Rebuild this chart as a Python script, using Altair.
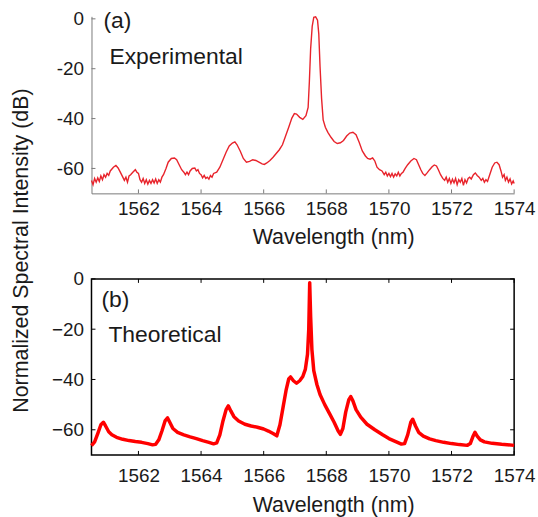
import altair as alt
import pandas as pd

# ---------------- data ----------------
exp_wl = [1560.50, 1560.55, 1560.60, 1560.65, 1560.70, 1560.75, 1560.80, 1560.85, 1560.90, 1560.95,
          1561.00, 1561.05, 1561.10, 1561.20, 1561.28, 1561.35, 1561.42, 1561.50, 1561.55, 1561.60,
          1561.65, 1561.70, 1561.75, 1561.82, 1561.90, 1561.95, 1562.00, 1562.05, 1562.10, 1562.15,
          1562.20, 1562.25, 1562.30, 1562.35, 1562.40, 1562.45, 1562.50, 1562.55, 1562.60, 1562.65,
          1562.70, 1562.75, 1562.80, 1562.88, 1562.95, 1563.05, 1563.15, 1563.22, 1563.30, 1563.38,
          1563.45, 1563.50, 1563.55, 1563.60, 1563.65, 1563.72, 1563.80, 1563.85, 1563.90, 1563.95,
          1564.00, 1564.05, 1564.10, 1564.15, 1564.20, 1564.25, 1564.30, 1564.35, 1564.40, 1564.50,
          1564.60, 1564.70, 1564.80, 1564.90, 1565.00, 1565.08, 1565.15, 1565.25, 1565.35, 1565.45,
          1565.55, 1565.65, 1565.75, 1565.85, 1565.95, 1566.02, 1566.10, 1566.20, 1566.30, 1566.40,
          1566.50, 1566.60, 1566.70, 1566.80, 1566.90, 1566.98, 1567.05, 1567.15, 1567.25, 1567.35,
          1567.42, 1567.46, 1567.50, 1567.55, 1567.60, 1567.66, 1567.72, 1567.76, 1567.80, 1567.85,
          1567.90, 1567.97, 1568.05, 1568.15, 1568.25, 1568.35, 1568.45, 1568.55, 1568.65, 1568.75,
          1568.85, 1568.95, 1569.05, 1569.15, 1569.25, 1569.32, 1569.40, 1569.48, 1569.55, 1569.62,
          1569.70, 1569.78, 1569.85, 1569.90, 1569.95, 1570.00, 1570.05, 1570.10, 1570.15, 1570.20,
          1570.25, 1570.30, 1570.35, 1570.40, 1570.45, 1570.52, 1570.60, 1570.70, 1570.80, 1570.88,
          1570.95, 1571.02, 1571.08, 1571.15, 1571.22, 1571.30, 1571.38, 1571.45, 1571.52, 1571.58,
          1571.65, 1571.72, 1571.78, 1571.83, 1571.88, 1571.93, 1571.98, 1572.03, 1572.08, 1572.13,
          1572.18, 1572.23, 1572.28, 1572.33, 1572.38, 1572.43, 1572.48, 1572.53, 1572.58, 1572.63,
          1572.70, 1572.76, 1572.82, 1572.88, 1572.95, 1573.00, 1573.05, 1573.10, 1573.15, 1573.22,
          1573.30, 1573.38, 1573.45, 1573.52, 1573.58, 1573.63, 1573.68, 1573.72, 1573.77, 1573.82,
          1573.87, 1573.92, 1573.97, 1574.00]
exp_db = [-64.8, -66.5, -64.0, -65.5, -63.8, -65.2, -63.0, -64.5, -62.5, -63.5,
          -62.0, -62.8, -61.0, -59.5, -58.8, -59.8, -61.5, -63.5, -64.8, -63.5,
          -65.5, -63.0, -62.5, -61.5, -60.5, -61.5, -62.0, -64.5, -65.5, -64.0,
          -66.0, -64.5, -66.3, -64.8, -66.0, -64.5, -65.8, -64.2, -66.0, -64.5,
          -65.5, -63.5, -62.5, -60.0, -57.5, -56.0, -55.8, -56.5, -58.5, -60.5,
          -61.5, -62.5, -61.5, -62.5, -61.0, -60.0, -59.8, -61.0, -60.5, -62.0,
          -62.5, -63.8, -62.8, -64.0, -63.5, -64.3, -62.8, -63.5, -62.0, -61.5,
          -59.5, -56.5, -53.5, -51.0, -49.8, -49.3, -50.5, -53.0, -56.0, -57.5,
          -57.2, -56.5, -56.8, -57.5, -58.2, -58.4, -57.8, -56.8, -55.5, -54.0,
          -52.5, -50.5, -47.0, -43.5, -39.8, -38.0, -38.2, -39.5, -40.3, -38.8,
          -35.5, -25.0, -12.0, -3.0, 0.6, 0.8, -0.5, -6.0, -19.0, -32.0,
          -40.5, -43.5, -45.5, -47.5, -49.2, -50.0, -49.7, -48.8, -47.0, -45.8,
          -45.5, -46.5, -49.5, -53.0, -55.0, -56.0, -56.3, -55.8, -57.0, -59.5,
          -60.5, -61.0, -62.5, -61.5, -63.0, -62.0, -63.3, -62.0, -63.5, -62.2,
          -63.0, -61.5, -63.0, -62.0, -61.5, -60.0, -58.5, -57.0, -56.0, -56.5,
          -58.5, -60.5, -62.0, -62.8, -61.8, -60.5, -59.3, -58.6, -59.0, -60.5,
          -62.5, -64.0, -64.8, -63.5, -65.5, -64.0, -66.0, -64.3, -65.8, -64.0,
          -66.5, -64.5, -65.5, -64.0, -66.8, -64.5, -65.8, -64.0, -63.5, -64.2,
          -62.5, -61.8, -62.8, -63.5, -64.8, -64.0, -65.5, -64.5, -65.2, -62.5,
          -59.5, -57.8, -57.5, -58.5, -61.0, -63.5, -62.5, -64.8, -63.5, -65.5,
          -64.2, -66.2, -65.0, -66.0]

th_wl = [1560.50, 1560.60, 1560.70, 1560.80, 1560.88, 1560.95, 1561.05, 1561.15, 1561.30, 1561.50,
         1561.70, 1561.90, 1562.10, 1562.30, 1562.45, 1562.55, 1562.65, 1562.75, 1562.85, 1562.93,
         1563.00, 1563.10, 1563.25, 1563.45, 1563.65, 1563.85, 1564.05, 1564.25, 1564.40, 1564.50,
         1564.60, 1564.70, 1564.80, 1564.87, 1564.95, 1565.05, 1565.20, 1565.40, 1565.60, 1565.80,
         1566.00, 1566.15, 1566.30, 1566.42, 1566.52, 1566.62, 1566.72, 1566.80, 1566.86, 1566.95,
         1567.05, 1567.15, 1567.25, 1567.33, 1567.40, 1567.44, 1567.47, 1567.50, 1567.54, 1567.60,
         1567.70, 1567.80, 1567.95, 1568.10, 1568.25, 1568.38, 1568.45, 1568.53, 1568.62, 1568.72,
         1568.78, 1568.85, 1568.95, 1569.10, 1569.30, 1569.55, 1569.80, 1570.00, 1570.20, 1570.40,
         1570.50, 1570.60, 1570.70, 1570.76, 1570.85, 1570.95, 1571.10, 1571.30, 1571.50, 1571.75,
         1572.00, 1572.25, 1572.50, 1572.60, 1572.68, 1572.75, 1572.82, 1572.92, 1573.05, 1573.30,
         1573.60, 1574.00]
th_db = [-66.3, -64.8, -61.5, -58.0, -57.0, -58.5, -60.8, -62.0, -63.0, -63.8,
         -64.3, -64.7, -65.0, -65.5, -66.0, -65.8, -64.0, -60.5, -56.5, -55.3,
         -57.0, -59.5, -61.0, -62.0, -62.8, -63.5, -64.3, -65.0, -65.6, -65.2,
         -62.0, -56.5, -52.0, -50.5, -52.5, -54.8, -56.5, -57.8, -58.5, -59.0,
         -59.7, -60.5, -61.5, -62.4, -58.0, -51.0, -44.0, -39.8, -39.0, -40.5,
         -41.5, -40.5, -38.8, -36.0, -30.0, -20.0, -1.5, -15.0, -28.0, -36.5,
         -42.0, -46.0, -50.0, -53.5, -57.0, -60.5, -61.8, -59.5, -53.0, -48.0,
         -46.8, -48.5, -52.0, -55.0, -57.8, -60.0, -62.0, -63.5, -64.6, -65.7,
         -65.5, -62.0, -57.0, -55.8, -58.5, -61.0, -62.5, -63.6, -64.3, -65.0,
         -65.5, -65.9, -66.2, -65.5, -62.8, -61.0, -62.5, -64.0, -64.8, -65.4,
         -65.8, -66.2]

x_ticks = [1562, 1564, 1566, 1568, 1570, 1572, 1574]
y_ticks = [0, -20, -40, -60]
panel_tags = ["(a)", "(b)"]
panel_names = ["Experimental", "Theoretical"]
x_title = "Wavelength (nm)"
y_title = "Normalized Spectral Intensity (dB)"

# ---------------- layout / style ----------------
FONT = "Liberation Sans"
W, H1, H2 = 425, 178, 177
TICK = 4
GRAY = "#7a7a7a"
TXT = "#1a1a1a"
LBL = 19
TTL = 21.5

exp_df = pd.DataFrame({"wl": exp_wl, "db": exp_db})
th_df = pd.DataFrame({"wl": th_wl, "db": th_db})
xt_df = pd.DataFrame({"wl": x_ticks})
yt_df = pd.DataFrame({"db": y_ticks})

xscale = alt.Scale(domain=[1560.5, 1574], nice=False, zero=False, padding=0)
y1scale = alt.Scale(domain=[-70, 1], nice=False, zero=False, padding=0)
y2scale = alt.Scale(domain=[-70, 0], nice=False, zero=False, padding=0)


def x_axis(label_pad, title_y, show_domain):
    return alt.Axis(values=x_ticks, format="d", ticks=False, grid=False,
                    labelOverlap=False, labelFlush=False,
                    domain=show_domain, domainColor=GRAY, domainWidth=1,
                    labelFont=FONT, labelFontSize=LBL, labelColor=TXT, labelPadding=label_pad,
                    labelBaseline="top",
                    title=x_title, titleFont=FONT, titleFontSize=TTL, titleFontWeight="normal",
                    titleColor=TXT, titleX=243, titleY=title_y, titleAlign="center",
                    titleBaseline="alphabetic")


x1_axis = x_axis(6, 50, True)
x2_axis = x_axis(12, 57, False)
y1_axis = alt.Axis(values=y_ticks, ticks=False, grid=False, domainColor=GRAY,
                   labelOverlap=False, labelFlush=False,
                   labelFont=FONT, labelFontSize=LBL, labelColor=TXT, labelPadding=8,
                   labelExpr="replace(datum.label, '\u2212', '-')",
                   title=y_title, titleFont=FONT, titleFontSize=TTL,
                   titleFontWeight="normal", titleColor=TXT,
                   titleAngle=270, titleAlign="center", titleBaseline="middle",
                   titleX=-70, titleY=235)
y2_axis = alt.Axis(values=y_ticks, ticks=False, grid=False, domain=False,
                   labelOverlap=False, labelFlush=False,
                   labelFont=FONT, labelFontSize=LBL, labelColor=TXT, labelPadding=8,
                   title="")

# ---- top panel ----
X1 = alt.X("wl:Q", scale=xscale, axis=x1_axis)
Y1 = alt.Y("db:Q", scale=y1scale, axis=y1_axis)
line1 = alt.Chart(exp_df).mark_line(color="#e8232b", strokeWidth=1.4).encode(x=X1, y=Y1)
xt1 = alt.Chart(xt_df).mark_rule(color=GRAY, strokeWidth=1).encode(
    x=X1, y=alt.value(H1), y2=alt.value(H1 - TICK))
yt1 = alt.Chart(yt_df).mark_rule(color=GRAY, strokeWidth=1).encode(
    y=Y1, x=alt.value(0), x2=alt.value(TICK))
tag1 = alt.Chart(pd.DataFrame({"t": [panel_tags[0]]})).mark_text(
    align="left", baseline="alphabetic", font=FONT, fontSize=23, color=TXT).encode(
    x=alt.value(12), y=alt.value(11.5), text="t:N")
name1 = alt.Chart(pd.DataFrame({"t": [panel_names[0]]})).mark_text(
    align="left", baseline="alphabetic", font=FONT, fontSize=23, color=TXT).encode(
    x=alt.value(18), y=alt.value(47.5), text="t:N")

top = alt.layer(line1, xt1, yt1, tag1, name1).properties(
    width=W, height=H1, view=alt.ViewBackground(strokeOpacity=0))

# ---- bottom panel ----
X2 = alt.X("wl:Q", scale=xscale, axis=x2_axis)
Y2 = alt.Y("db:Q", scale=y2scale, axis=y2_axis)
line2 = alt.Chart(th_df).mark_line(color="#ff0000", strokeWidth=3.5, strokeJoin="round").encode(
    x=X2, y=Y2)
xt2b = alt.Chart(xt_df).mark_rule(color="black", strokeWidth=1).encode(
    x=X2, y=alt.value(H2), y2=alt.value(H2 - TICK))
xt2t = alt.Chart(xt_df).mark_rule(color="black", strokeWidth=1).encode(
    x=X2, y=alt.value(0), y2=alt.value(TICK))
yt2l = alt.Chart(yt_df).mark_rule(color="black", strokeWidth=1).encode(
    y=Y2, x=alt.value(0), x2=alt.value(TICK))
yt2r = alt.Chart(yt_df).mark_rule(color="black", strokeWidth=1).encode(
    y=Y2, x=alt.value(W), x2=alt.value(W - TICK))
tag2 = alt.Chart(pd.DataFrame({"t": [panel_tags[1]]})).mark_text(
    align="left", baseline="alphabetic", font=FONT, fontSize=23, color=TXT).encode(
    x=alt.value(10), y=alt.value(28), text="t:N")
name2 = alt.Chart(pd.DataFrame({"t": [panel_names[1]]})).mark_text(
    align="left", baseline="alphabetic", font=FONT, fontSize=23, color=TXT).encode(
    x=alt.value(17), y=alt.value(63), text="t:N")

bottom = alt.layer(line2, xt2b, xt2t, yt2l, yt2r, tag2, name2).properties(
    width=W, height=H2, view=alt.ViewBackground(stroke="black", strokeWidth=1.5))

chart = alt.vconcat(top, bottom, spacing=86, bounds="flush").properties(
    padding={"left": 10, "top": 8, "right": 2, "bottom": 2}
).configure(font=FONT)

chart.save("out.html", embed_options={"renderer": "svg", "actions": False})
